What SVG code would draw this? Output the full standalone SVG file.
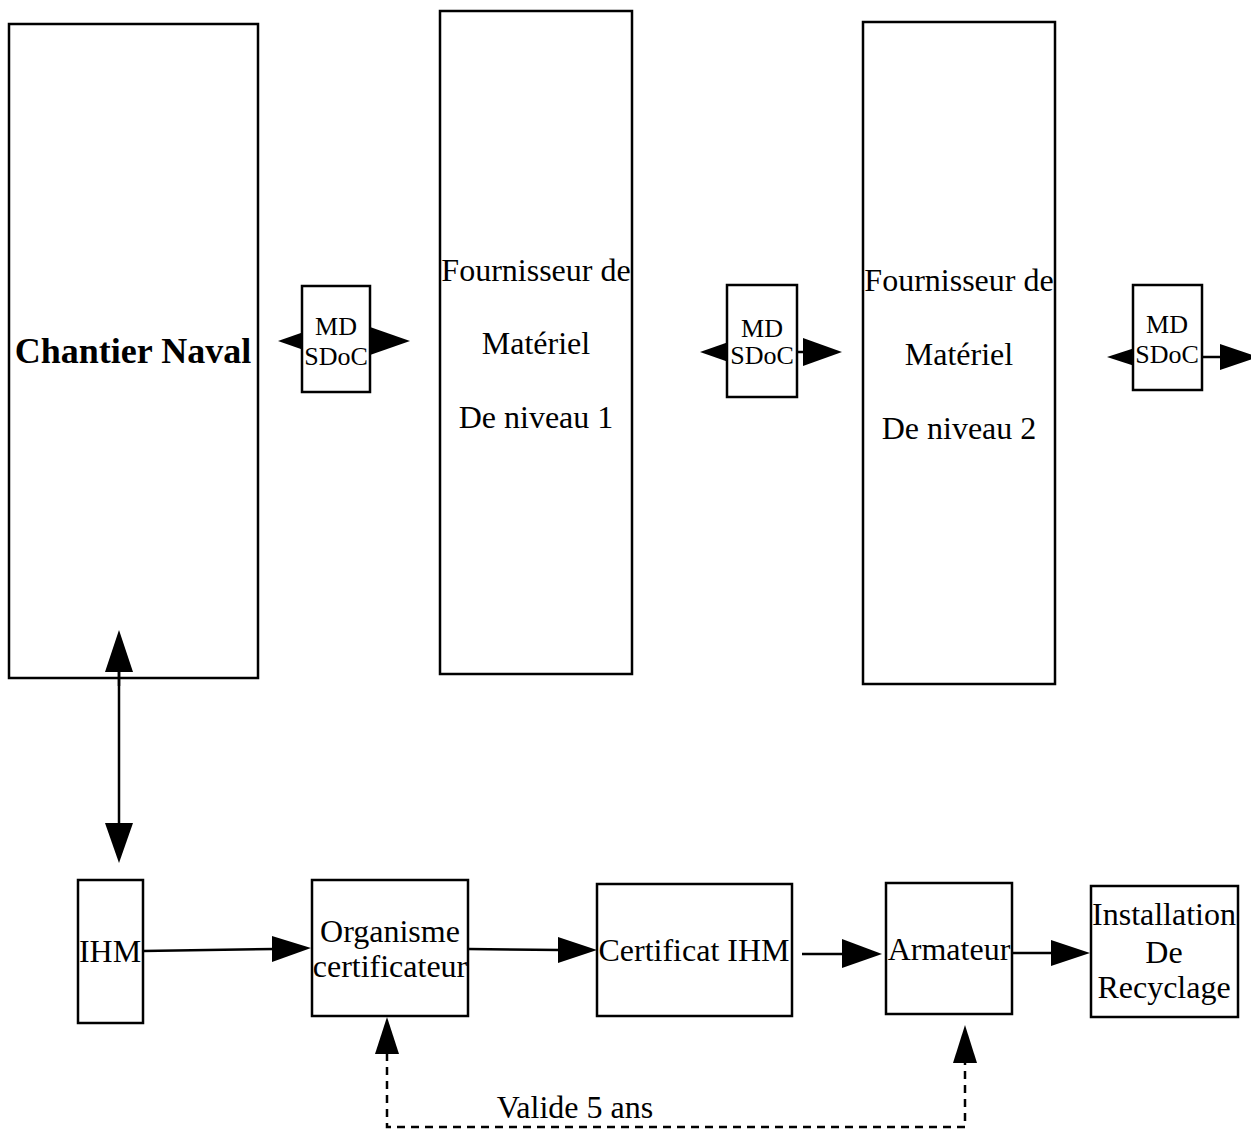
<svg xmlns="http://www.w3.org/2000/svg" width="1251" height="1129" viewBox="0 0 1251 1129">
<style>
.box{fill:#fff;stroke:#000;stroke-width:2.5}
.ln{fill:none;stroke:#000;stroke-width:2.5}
.dash{fill:none;stroke:#000;stroke-width:2.5;stroke-dasharray:8 6}
.head{fill:#000;stroke:none}
text{font-family:"Liberation Serif","Times New Roman",serif;fill:#000;text-anchor:middle}
.t{font-size:32px}
.s{font-size:26px}
.b{font-size:36px;font-weight:bold}
</style>
<rect width="1251" height="1129" fill="#fff"/>
<g id="connectors">
  <!-- Chantier <-> IHM -->
  <line class="ln" x1="119" y1="665" x2="119" y2="830"/>
  <polygon class="head" points="119,630 105,672 133,672"/>
  <polygon class="head" points="119,863 105,823 133,823"/>
  <!-- MD SDoC 1 arrows -->
  <polygon class="head" points="278,341 318,327 318,355"/>
  <polygon class="head" points="370,327 370,355 410,341"/>
  <!-- MD SDoC 2 arrows -->
  <polygon class="head" points="700,352 740,338 740,366"/>
  <line class="ln" x1="797" y1="352" x2="805" y2="352"/>
  <polygon class="head" points="803,338 803,366 842,352"/>
  <!-- MD SDoC 3 arrows -->
  <polygon class="head" points="1107,357 1147,344 1147,370"/>
  <line class="ln" x1="1202" y1="357" x2="1222" y2="357"/>
  <polygon class="head" points="1220,344 1220,370 1258,357"/>
  <!-- bottom chain -->
  <line class="ln" x1="143" y1="951" x2="275" y2="949"/>
  <polygon class="head" points="311,948 272,936 272,962"/>
  <line class="ln" x1="468" y1="949" x2="560" y2="950"/>
  <polygon class="head" points="597,950 558,937 558,963"/>
  <line class="ln" x1="802" y1="954" x2="845" y2="954"/>
  <polygon class="head" points="882,954 842,939 842,968"/>
  <line class="ln" x1="1012" y1="953" x2="1054" y2="953"/>
  <polygon class="head" points="1090,953 1051,940 1051,966"/>
  <!-- dashed validity loop -->
  <polyline class="dash" points="387,1053 387,1127 965,1127 965,1062"/>
  <polygon class="head" points="387,1017 375,1054 399,1054"/>
  <polygon class="head" points="965,1025 953,1063 977,1063"/>
  <text class="t" x="575" y="1118">Valide 5 ans</text>
</g>
<g id="chantier">
  <rect class="box" x="9" y="24" width="249" height="654" fill-opacity="0"/>
  <text class="b" x="133" y="363">Chantier Naval</text>
</g>
<line class="ln" x1="119" y1="670" x2="119" y2="686"/>
<g id="fournisseur1">
  <rect class="box" x="440" y="11" width="192" height="663"/>
  <text class="t" x="536" y="281">Fournisseur de</text>
  <text class="t" x="536" y="354">Matériel</text>
  <text class="t" x="536" y="428">De niveau 1</text>
</g>
<g id="fournisseur2">
  <rect class="box" x="863" y="22" width="192" height="662"/>
  <text class="t" x="959" y="291">Fournisseur de</text>
  <text class="t" x="959" y="365">Matériel</text>
  <text class="t" x="959" y="439">De niveau 2</text>
</g>
<g id="mdsdoc1">
  <rect class="box" x="302" y="286" width="68" height="106"/>
  <text class="s" x="336" y="335">MD</text>
  <text class="s" x="336" y="365">SDoC</text>
</g>
<g id="mdsdoc2">
  <rect class="box" x="727" y="285" width="70" height="112"/>
  <text class="s" x="762" y="337">MD</text>
  <text class="s" x="762" y="364">SDoC</text>
</g>
<g id="mdsdoc3">
  <rect class="box" x="1133" y="285" width="69" height="105"/>
  <text class="s" x="1167" y="333">MD</text>
  <text class="s" x="1167" y="363">SDoC</text>
</g>
<g id="ihm">
  <rect class="box" x="78" y="880" width="65" height="143"/>
  <text class="t" x="110" y="962">IHM</text>
</g>
<g id="organisme">
  <rect class="box" x="312" y="880" width="156" height="136"/>
  <text class="t" x="390" y="942">Organisme</text>
  <text class="t" x="390" y="977">certificateur</text>
</g>
<g id="certificat">
  <rect class="box" x="597" y="884" width="195" height="132"/>
  <text class="t" x="694" y="961">Certificat IHM</text>
</g>
<g id="armateur">
  <rect class="box" x="886" y="883" width="126" height="131"/>
  <text class="t" x="949" y="960">Armateur</text>
</g>
<g id="installation">
  <rect class="box" x="1091" y="886" width="147" height="131"/>
  <text class="t" x="1164" y="925">Installation</text>
  <text class="t" x="1164" y="963">De</text>
  <text class="t" x="1164" y="998">Recyclage</text>
</g>
</svg>
